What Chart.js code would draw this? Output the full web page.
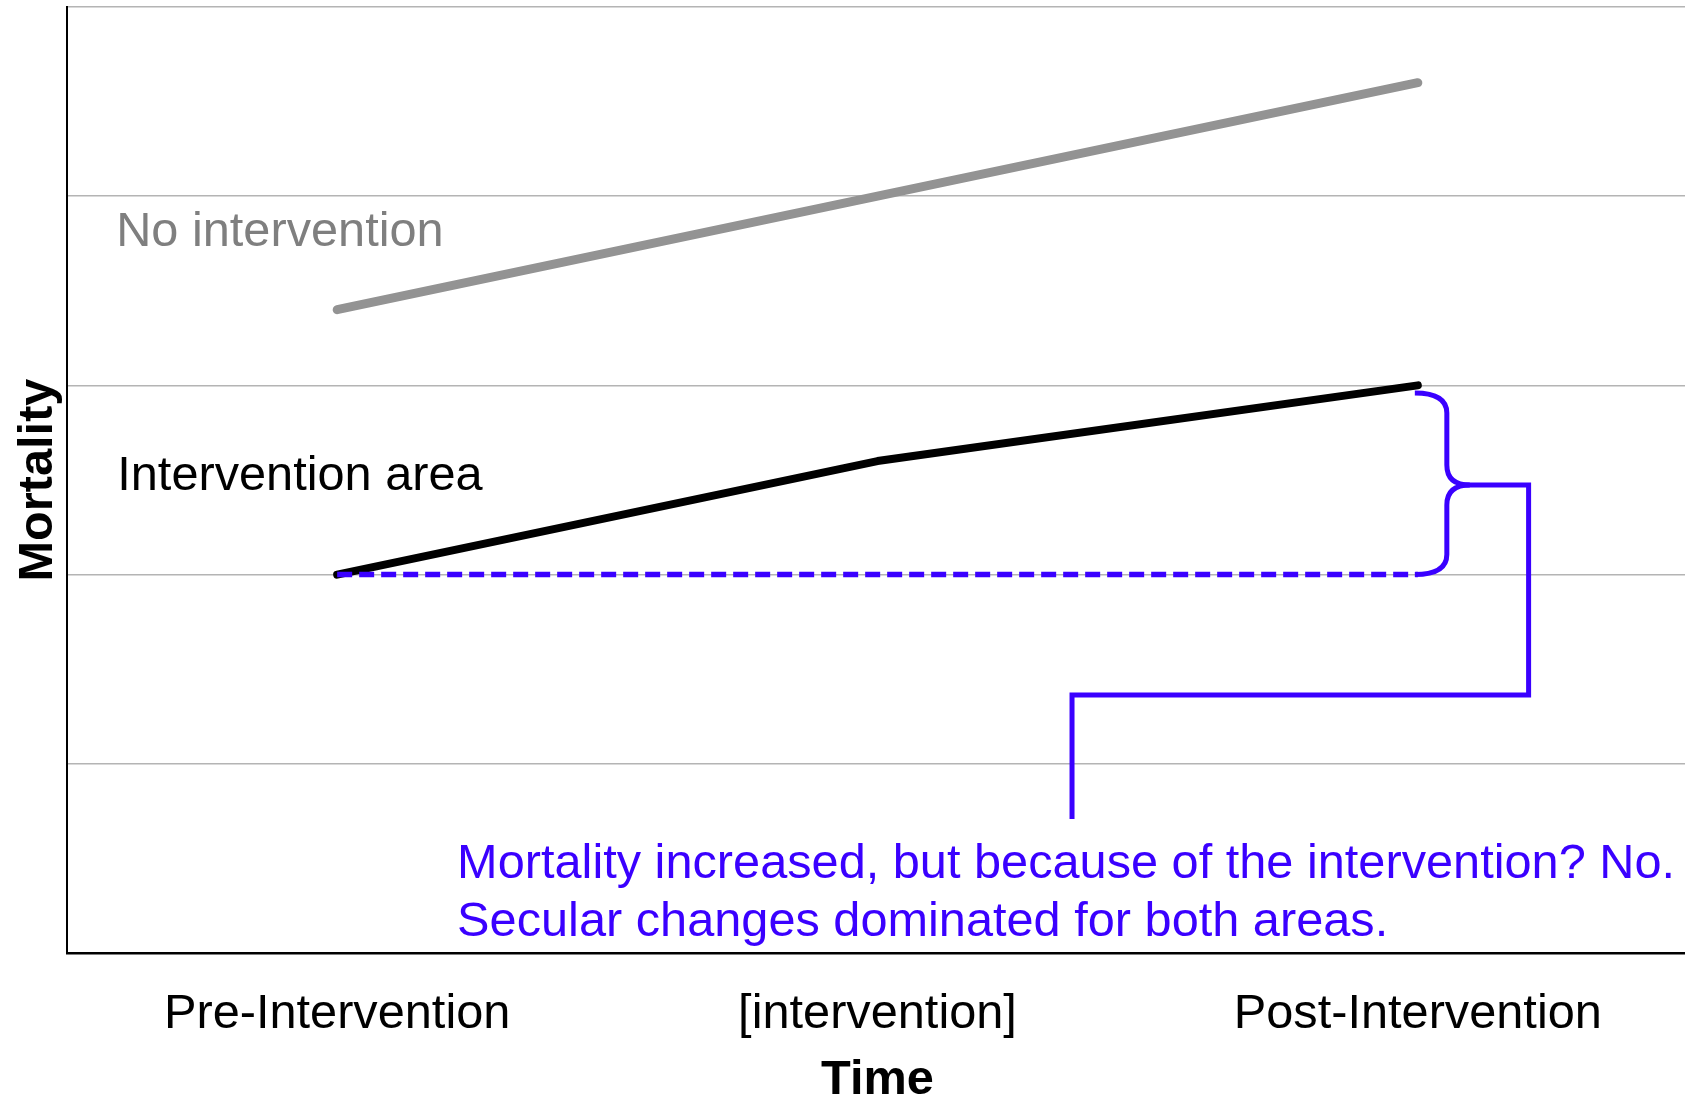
<!DOCTYPE html>
<html>
<head>
<meta charset="utf-8">
<script src="https://cdn.jsdelivr.net/npm/chart.js@4.4.1/dist/chart.umd.min.js"></script>
<style>
html, body { margin: 0; padding: 0; background: #ffffff; overflow: hidden; }
#wrap { position: relative; width: 1688px; height: 1100px; }
</style>
</head>
<body>
<div id="wrap"><canvas id="c"></canvas></div>
<script>
// ---- data ----
const categories = ['Pre-Intervention', '[intervention]', 'Post-Intervention'];
const noInterventionValues = [3.4, 4.0, 4.6];
const interventionAreaValues = [2.0, 2.6, 3.0];
const baselineValues = [2.0, 2.0, 2.0];
const yTickValues = [0, 1, 2, 3, 4, 5];
const seriesLabels = ['No intervention', 'Intervention area'];
const noteLines = [
  'Mortality increased, but because of the intervention? No.',
  'Secular changes dominated for both areas.'
];
const xTitle = 'Time';
const yTitle = 'Mortality';

// ---- annotation anchors (category index, value) ----
const labelAnchors = { noIntervention: [-0.409, 3.81], interventionArea: [-0.407, 2.52] };
const noteAnchor = [0.222, 0.466];
const noteLineStep = 0.306;
const braceRange = { index: 2, low: 2.0, high: 2.96, tip: 2.474 };
const connectorPath = [[2.205, 2.474], [2.205, 1.364], [1.360, 1.364], [1.360, 0.708]];

const FONT = '"Liberation Sans", Arial, Helvetica, sans-serif';
const FS = 48.7;
const BLUE = '#3A00FF';
const GRAY_LINE = '#939393';
const GRAY_TEXT = '#7f7f7f';

Chart.defaults.font.family = FONT;

const annotations = {
  id: 'annotations',
  afterDatasetsDraw(chart) {
    const { ctx } = chart;
    const x = chart.scales.x, y = chart.scales.y;
    ctx.save();
    ctx.font = FS + 'px ' + FONT;
    ctx.textAlign = 'left';
    ctx.textBaseline = 'middle';
    ctx.fillStyle = GRAY_TEXT;
    ctx.fillText(seriesLabels[0], x.getPixelForValue(labelAnchors.noIntervention[0]), y.getPixelForValue(labelAnchors.noIntervention[1]));
    ctx.fillStyle = '#000000';
    ctx.fillText(seriesLabels[1], x.getPixelForValue(labelAnchors.interventionArea[0]), y.getPixelForValue(labelAnchors.interventionArea[1]));
    ctx.fillStyle = BLUE;
    noteLines.forEach((t, i) => {
      ctx.fillText(t, x.getPixelForValue(noteAnchor[0]), y.getPixelForValue(noteAnchor[1] - i * noteLineStep));
    });

    // curly brace
    const px = x.getPixelForValue(braceRange.index);
    const yT = y.getPixelForValue(braceRange.high);
    const yB = y.getPixelForValue(braceRange.low);
    const yM = y.getPixelForValue(braceRange.tip);
    const x0 = px - 3, x1 = px + 29, xt = px + 52, r = 20;
    ctx.strokeStyle = BLUE;
    ctx.lineWidth = 5;
    ctx.lineJoin = 'miter';
    ctx.lineCap = 'butt';
    ctx.beginPath();
    ctx.moveTo(x0, yT);
    ctx.quadraticCurveTo(x1, yT, x1, yT + r);
    ctx.lineTo(x1, yM - r);
    ctx.quadraticCurveTo(x1, yM, xt, yM);
    ctx.quadraticCurveTo(x1, yM, x1, yM + r);
    ctx.lineTo(x1, yB - r);
    ctx.quadraticCurveTo(x1, yB, x0, yB);
    ctx.stroke();

    // connector
    ctx.beginPath();
    ctx.moveTo(xt - 8, yM);
    connectorPath.forEach(p => ctx.lineTo(x.getPixelForValue(p[0]), y.getPixelForValue(p[1])));
    ctx.stroke();
    ctx.restore();
  }
};

new Chart(document.getElementById('c'), {
  type: 'line',
  data: {
    labels: categories,
    datasets: [
      {
        label: 'Baseline',
        data: baselineValues,
        borderColor: BLUE,
        borderWidth: 5.5,
        borderDash: [15, 7],
        borderCapStyle: 'butt',
        pointRadius: 0,
        fill: false,
        tension: 0,
        order: 0
      },
      {
        label: seriesLabels[1],
        data: interventionAreaValues,
        borderColor: '#000000',
        borderWidth: 8,
        borderCapStyle: 'round',
        borderJoinStyle: 'round',
        pointRadius: 0,
        fill: false,
        tension: 0,
        order: 1
      },
      {
        label: seriesLabels[0],
        data: noInterventionValues,
        borderColor: GRAY_LINE,
        borderWidth: 9,
        borderCapStyle: 'round',
        borderJoinStyle: 'round',
        pointRadius: 0,
        fill: false,
        tension: 0,
        order: 2
      }
    ]
  },
  options: {
    responsive: true,
    maintainAspectRatio: false,
    animation: false,
    layout: { padding: { top: 7, left: 0, right: 0, bottom: 0 } },
    plugins: { legend: { display: false }, tooltip: { enabled: false } },
    scales: {
      x: {
        type: 'category',
        offset: true,
        grid: { display: false, drawTicks: false },
        border: { display: true, color: '#000000', width: 2.5 },
        ticks: { color: '#000000', font: { size: FS, lineHeight: 1.2 }, padding: 32, maxRotation: 0, autoSkip: false },
        title: { display: true, text: xTitle, color: '#000000', font: { size: FS, weight: 'bold', lineHeight: 0.75 }, padding: { top: 0, bottom: 1 } },
        afterFit(s) { s.height = 147; }
      },
      y: {
        min: 0,
        max: 5,
        afterBuildTicks(s) { s.ticks = yTickValues.map(v => ({ value: v })); },
        ticks: { display: false },
        grid: {
          color: c => (c.tick && c.tick.value === 0) ? 'rgba(0,0,0,0)' : '#b4b4b4',
          lineWidth: 1.5,
          drawTicks: false
        },
        border: { display: true, color: '#000000', width: 2 },
        title: { display: true, text: yTitle, color: '#000000', font: { size: FS, weight: 'bold', lineHeight: 1 }, padding: { top: 14, bottom: 0 } },
        afterFit(s) { s.width = 67; }
      }
    }
  },
  plugins: [annotations]
});
</script>
</body>
</html>
